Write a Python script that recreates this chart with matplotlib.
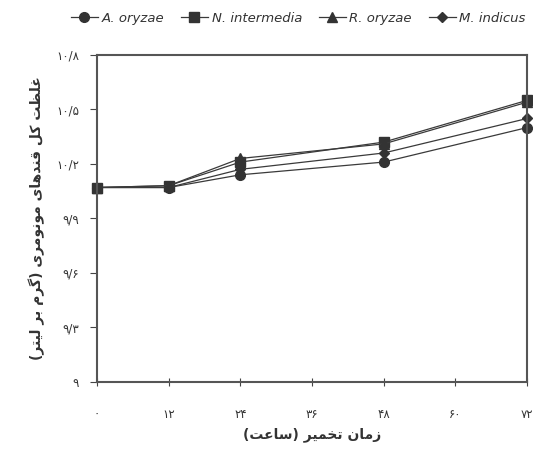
import matplotlib
matplotlib.use("Agg")
import matplotlib.pyplot as plt

# داده ها (خوانده شده از نمودار)
hours = [0, 12, 24, 48, 72]
a_oryzae = [10.07, 10.07, 10.14, 10.21, 10.40]
n_intermedia = [10.07, 10.08, 10.21, 10.32, 10.55]
r_oryzae = [10.07, 10.08, 10.23, 10.31, 10.54]
m_indicus = [10.07, 10.07, 10.17, 10.26, 10.45]

series_names = ["A. oryzae", "N. intermedia", "R. oryzae", "M. indicus"]
x_ticks = [0, 12, 24, 36, 48, 60, 72]
x_labels = ["۰", "۱۲", "۲۴", "۳۶", "۴۸", "۶۰", "۷۲"]
y_ticks = [9.0, 9.3, 9.6, 9.9, 10.2, 10.5, 10.8]
y_labels = ["۹", "۹/۳", "۹/۶", "۹/۹", "۱۰/۲", "۱۰/۵", "۱۰/۸"]
x_title = "زمان تخمیر (ساعت)"
y_title = "غلظت کل قندهای مونومری (گرم بر لیتر)"

# شکل دهی ساده حروف فارسی (بدون کتابخانه خارجی)
forms = {
    "ا": ("\uFE8D", "\uFE8E", None, None),
    "ب": ("\uFE8F", "\uFE90", "\uFE91", "\uFE92"),
    "ت": ("\uFE95", "\uFE96", "\uFE97", "\uFE98"),
    "خ": ("\uFEA5", "\uFEA6", "\uFEA7", "\uFEA8"),
    "د": ("\uFEA9", "\uFEAA", None, None),
    "ر": ("\uFEAD", "\uFEAE", None, None),
    "ز": ("\uFEAF", "\uFEB0", None, None),
    "س": ("\uFEB1", "\uFEB2", "\uFEB3", "\uFEB4"),
    "ظ": ("\uFEC5", "\uFEC6", "\uFEC7", "\uFEC8"),
    "ع": ("\uFEC9", "\uFECA", "\uFECB", "\uFECC"),
    "غ": ("\uFECD", "\uFECE", "\uFECF", "\uFED0"),
    "ق": ("\uFED5", "\uFED6", "\uFED7", "\uFED8"),
    "ل": ("\uFEDD", "\uFEDE", "\uFEDF", "\uFEE0"),
    "م": ("\uFEE1", "\uFEE2", "\uFEE3", "\uFEE4"),
    "ن": ("\uFEE5", "\uFEE6", "\uFEE7", "\uFEE8"),
    "ه": ("\uFEE9", "\uFEEA", "\uFEEB", "\uFEEC"),
    "و": ("\uFEED", "\uFEEE", None, None),
    "ک": ("\uFB8E", "\uFB8F", "\uFB90", "\uFB91"),
    "گ": ("\uFB92", "\uFB93", "\uFB94", "\uFB95"),
    "ی": ("\uFBFC", "\uFBFD", "\uFBFE", "\uFBFF"),
}


def shape(text):
    out = []
    for i, ch in enumerate(text):
        if ch not in forms:
            out.append(ch)
            continue
        prev = text[i - 1] if i > 0 else ""
        nxt = text[i + 1] if i + 1 < len(text) else ""
        join_prev = prev in forms and forms[prev][2] is not None
        join_next = nxt in forms and forms[ch][2] is not None
        iso, fin, ini, med = forms[ch]
        if join_prev and join_next:
            out.append(med)
        elif join_prev:
            out.append(fin)
        elif join_next:
            out.append(ini)
        else:
            out.append(iso)
    vis = "".join(out)[::-1]
    return vis.translate(str.maketrans("()", ")("))


plt.rcParams["font.family"] = ["DejaVu Sans"]

fig = plt.figure(figsize=(5.33, 4.54), dpi=100)
ax = fig.add_axes([0.182, 0.159, 0.807, 0.72])

data = [a_oryzae, n_intermedia, r_oryzae, m_indicus]
markers = ["o", "s", "^", "D"]
sizes = [7, 7, 7, 5]
for vals, name, mk, ms in zip(data, series_names, markers, sizes):
    ax.plot(hours, vals, color="#3a3a3a", lw=0.9, marker=mk, ms=ms,
            mfc="#333333", mec="#333333", label=name, clip_on=False)

ax.set_xlim(0, 72)
ax.set_ylim(9.0, 10.8)
ax.set_xticks(x_ticks)
ax.set_xticklabels(x_labels, fontsize=8.5, color="#333333")
ax.set_yticks(y_ticks)
ax.set_yticklabels(y_labels, fontsize=8.5, color="#333333")
ax.tick_params(axis="x", direction="inout", length=6, pad=16, color="#444444")
ax.tick_params(axis="y", direction="out", length=5, pad=8, color="#444444")
for s in ax.spines.values():
    s.set_color("#555555")
    s.set_linewidth(1.5)

ax.set_xlabel(shape(x_title), fontsize=10, fontweight="bold", color="#333333", labelpad=4)
ax.set_ylabel(shape(y_title), fontsize=10, fontweight="bold", color="#333333", labelpad=8)

leg = fig.legend(loc="center", bbox_to_anchor=(0.56, 0.96), ncol=4, frameon=False,
                 handlelength=2.0, handletextpad=0.3, columnspacing=1.3,
                 prop={"style": "italic", "size": 9.5})
for t in leg.get_texts():
    t.set_color("#333333")

fig.savefig("out.png", dpi=100)
